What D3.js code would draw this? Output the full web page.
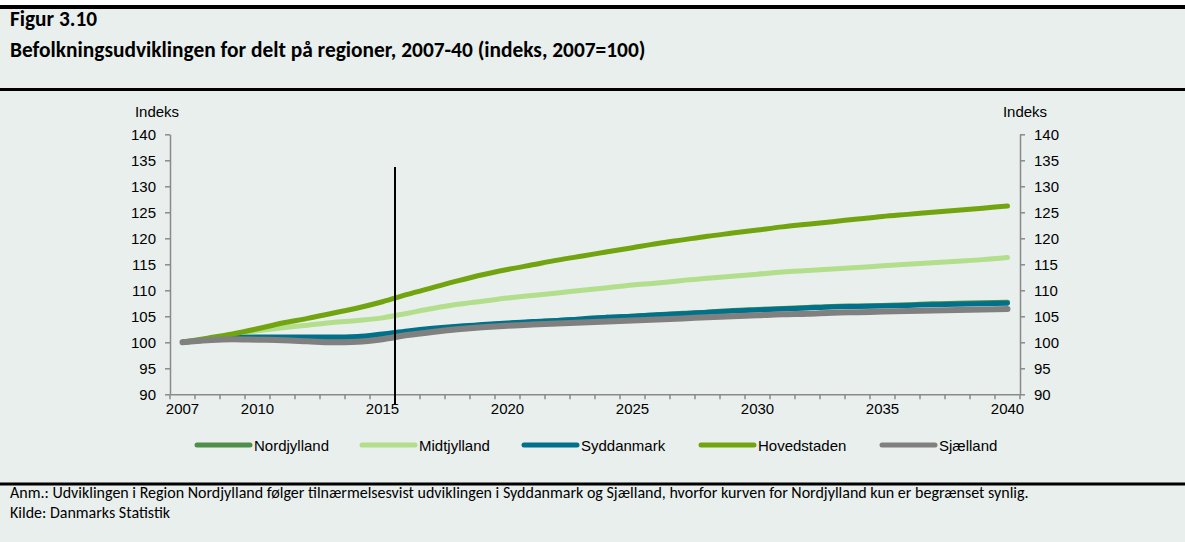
<!DOCTYPE html>
<html>
<head>
<meta charset="utf-8">
<script src="https://cdn.jsdelivr.net/npm/d3@7"></script>
<style>
  html, body { margin: 0; padding: 0; background: #ffffff; }
  svg { display: block; }
</style>
</head>
<body>
<svg id="chart" width="1185" height="542"></svg>
<script>
const years = d3.range(2007, 2041);
const xTickLabels = [2007, 2010, 2015, 2020, 2025, 2030, 2035, 2040];
const yTicks = [90, 95, 100, 105, 110, 115, 120, 125, 130, 135, 140];
const seriesNames = ["Nordjylland", "Midtjylland", "Syddanmark", "Hovedstaden", "Sjælland"];
const seriesColors = ["#4f8f4b", "#b3de8c", "#00718a", "#72a40f", "#808080"];

const nordjylland = [100, 100.4, 100.6, 100.6, 100.6, 100.6, 100.5, 100.6, 101.2, 101.9, 102.5, 103.0, 103.3, 103.6, 103.9, 104.2, 104.5, 104.8, 105.0, 105.3, 105.6, 105.8, 106.1, 106.3, 106.5, 106.7, 106.9, 107.0, 107.1, 107.2, 107.4, 107.5, 107.6, 107.7];
const midtjylland = [100, 100.7, 101.5, 102.2, 102.8, 103.3, 103.8, 104.2, 104.7, 105.6, 106.5, 107.3, 107.9, 108.5, 109.0, 109.5, 110.0, 110.5, 111.0, 111.4, 111.9, 112.3, 112.7, 113.1, 113.5, 113.8, 114.1, 114.4, 114.7, 115.0, 115.3, 115.6, 115.9, 116.3];
const syddanmark = [100, 100.5, 100.9, 101.0, 101.0, 101.0, 101.0, 101.1, 101.6, 102.2, 102.7, 103.1, 103.4, 103.7, 104.0, 104.2, 104.5, 104.8, 105.0, 105.3, 105.5, 105.8, 106.0, 106.2, 106.4, 106.6, 106.8, 106.9, 107.0, 107.1, 107.2, 107.3, 107.4, 107.5];
const hovedstaden = [100, 100.8, 101.6, 102.6, 103.7, 104.6, 105.6, 106.6, 107.8, 109.2, 110.5, 111.8, 113.0, 114.0, 114.9, 115.8, 116.6, 117.4, 118.2, 119.0, 119.7, 120.4, 121.0, 121.6, 122.2, 122.7, 123.2, 123.7, 124.2, 124.6, 125.0, 125.4, 125.8, 126.2];
const sjaelland = [100, 100.4, 100.6, 100.5, 100.4, 100.2, 100.0, 100.1, 100.6, 101.4, 102.0, 102.5, 102.9, 103.2, 103.4, 103.6, 103.8, 104.0, 104.2, 104.4, 104.6, 104.8, 105.0, 105.2, 105.4, 105.5, 105.7, 105.8, 105.9, 106.0, 106.1, 106.2, 106.3, 106.4];
const seriesValues = [nordjylland, midtjylland, syddanmark, hovedstaden, sjaelland];
const markerYear = 2015; // vertical line after this year

const title = "Figur 3.10";
const subtitle = "Befolkningsudviklingen for delt på regioner, 2007-40 (indeks, 2007=100)";
const note1 = "Anm.: Udviklingen i Region Nordjylland følger tilnærmelsesvist udviklingen i Syddanmark og Sjælland, hvorfor kurven for Nordjylland kun er begrænset synlig.";
const note2 = "Kilde: Danmarks Statistik";

const W = 1185, H = 542;
const svg = d3.select("#chart");
const bg = "#e9efed";

svg.append("rect").attr("x", 0).attr("y", 0).attr("width", W).attr("height", H).attr("fill", "#ffffff");
svg.append("rect").attr("x", 0).attr("y", 7).attr("width", W).attr("height", H - 7).attr("fill", bg);
svg.append("rect").attr("x", 0).attr("y", 5).attr("width", W).attr("height", 4).attr("fill", "#000");
svg.append("rect").attr("x", 0).attr("y", 88).attr("width", W).attr("height", 3).attr("fill", "#000");
svg.append("rect").attr("x", 0).attr("y", 482.5).attr("width", W).attr("height", 3).attr("fill", "#000");

const hFont = "Carlito, Calibri, 'Open Sans', sans-serif";
svg.append("text").attr("x", 10).attr("y", 26).attr("font-family", hFont)
  .attr("font-weight", "bold").attr("font-size", 21.3).attr("fill", "#000").text(title);
svg.append("text").attr("x", 10).attr("y", 56.5).attr("font-family", hFont)
  .attr("font-weight", "bold").attr("font-size", 21.4).attr("fill", "#000").text(subtitle);
svg.append("text").attr("x", 10).attr("y", 497.5).attr("font-family", hFont)
  .attr("font-size", 16).attr("fill", "#000").text(note1);
svg.append("text").attr("x", 10).attr("y", 518).attr("font-family", hFont)
  .attr("font-size", 16).attr("fill", "#000").text(note2);

const pLeft = 170, pRight = 1020, pTop = 134.3, pBottom = 394.3;
const x = d3.scaleBand().domain(years).range([pLeft, pRight]).paddingInner(0).paddingOuter(0);
const xc = d => x(d) + x.bandwidth() / 2;
const y = d3.scaleLinear().domain([90, 140]).range([pBottom, pTop]);

const aFont = "'Liberation Sans', Arial, sans-serif";
const axisColor = "#8a8a8a";

const gL = svg.append("g").attr("transform", `translate(${pLeft},0)`)
  .call(d3.axisLeft(y).tickValues(yTicks).tickSize(5).tickPadding(9).tickSizeOuter(0));
const gR = svg.append("g").attr("transform", `translate(${pRight},0)`)
  .call(d3.axisRight(y).tickValues(yTicks).tickSize(5).tickPadding(9).tickSizeOuter(0));
const gB = svg.append("g").attr("transform", `translate(0,${pBottom})`)
  .call(d3.axisBottom(x).tickValues(xTickLabels).tickSize(0).tickPadding(9).tickSizeOuter(0));
gB.selectAll(".tick line").remove();
const boundaries = years.map(d => x(d)).concat([pRight]);
gB.selectAll("line.bt").data(boundaries).enter().append("line")
  .attr("class", "bt").attr("x1", d => d).attr("x2", d => d).attr("y1", 0).attr("y2", 5)
  .attr("stroke", axisColor).attr("stroke-width", 1.5);

[gL, gR, gB].forEach(g => {
  g.selectAll(".domain").attr("stroke", axisColor).attr("stroke-width", 1.5);
  g.selectAll(".tick line").attr("stroke", axisColor).attr("stroke-width", 1.5);
  g.selectAll("text").attr("font-family", aFont).attr("font-size", 15).attr("fill", "#000");
});

svg.append("text").attr("x", 157).attr("y", 117).attr("text-anchor", "middle")
  .attr("font-family", aFont).attr("font-size", 15).attr("fill", "#000").text("Indeks");
svg.append("text").attr("x", 1025).attr("y", 117).attr("text-anchor", "middle")
  .attr("font-family", aFont).attr("font-size", 15).attr("fill", "#000").text("Indeks");

const line = d3.line().x((d, i) => xc(years[i])).y(d => y(d)).curve(d3.curveMonotoneX);
seriesValues.forEach((vals, k) => {
  svg.append("path").datum(vals).attr("d", line).attr("fill", "none")
    .attr("stroke", seriesColors[k]).attr("stroke-width", k === 4 ? 6 : 5)
    .attr("stroke-linecap", "round").attr("stroke-linejoin", "round");
});

const mx = x(markerYear) + x.bandwidth();
svg.append("line").attr("x1", mx).attr("x2", mx).attr("y1", 167).attr("y2", 405)
  .attr("stroke", "#000").attr("stroke-width", 2);

const legendX = [197, 362, 524, 701, 882];
const lg = svg.append("g").attr("transform", "translate(0,445)");
seriesNames.forEach((n, k) => {
  lg.append("line").attr("x1", legendX[k]).attr("x2", legendX[k] + 53).attr("y1", 0).attr("y2", 0)
    .attr("stroke", seriesColors[k]).attr("stroke-width", 5).attr("stroke-linecap", "round");
  lg.append("text").attr("x", legendX[k] + 57).attr("y", 5.5).attr("font-family", aFont)
    .attr("font-size", 15).attr("fill", "#000").text(n);
});
</script>
</body>
</html>
